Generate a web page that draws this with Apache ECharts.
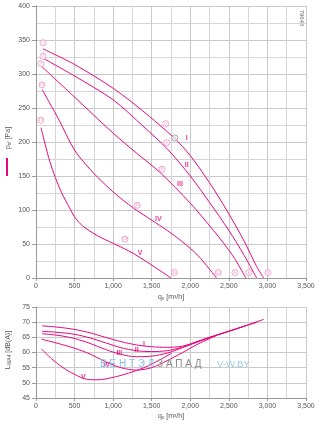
<!DOCTYPE html>
<html><head><meta charset="utf-8">
<script src="https://cdn.jsdelivr.net/npm/echarts@6/dist/echarts.min.js"></script>
<style>html,body{margin:0;padding:0;background:#fff}#c{width:325px;height:426px}</style>
</head><body><div id="c"></div>
<script>
// ---- data ----
const flowTicks = [0, 500, 1000, 1500, 2000, 2500, 3000, 3500];
const pressureTicks = [0, 50, 100, 150, 200, 250, 300, 350, 400];
const soundTicks = [45, 50, 55, 60, 65, 70, 75];

const pressI   = [[90,337],[500,314],[1000,279],[1370,247],[1790,206],[2000,180],[2250,140],[2470,100],[2690,56],[2860,17],[2950,0]];
const pressII  = [[95,323],[500,297],[1000,262],[1400,222],[1700,190],[2000,150],[2250,111],[2500,70],[2700,33],[2860,0]];
const pressIII = [[74,311],[500,266],[1000,213],[1300,184],[1600,156],[2000,110],[2300,70],[2550,33],[2720,0]];
const pressIV  = [[80,277],[300,232],[500,188],[700,160],[900,137],[1100,117],[1300,100],[1500,85],[1700,70],[1900,53],[2100,33],[2340,0]];
const pressV   = [[65,221],[120,196],[180,171],[250,148],[330,126],[440,102],[500,90],[600,77],[800,62],[1000,51],[1200,40],[1350,30],[1500,19],[1750,0]];

const soundI   = [[80,68.8],[300,68.3],[500,67.6],[700,66.5],[900,65],[1100,63.6],[1300,62.5],[1500,61.9],[1700,61.7],[1900,62.1],[2100,63.7],[2300,65.4],[2500,67],[2700,68.7],[2950,70.9]];
const soundII  = [[80,67],[300,66.6],[500,66],[700,64.8],[900,63.2],[1100,61.6],[1300,60.6],[1500,60.3],[1700,60.6],[1900,61.8],[2100,63.7],[2300,65.4],[2500,67],[2700,68.7],[2860,69.9]];
const soundIII = [[80,66.2],[300,65.6],[500,64.6],[700,63],[900,61],[1100,59.4],[1300,58.6],[1500,58.8],[1700,59.8],[1900,61.6],[2100,63.5],[2300,65.3],[2500,67],[2720,68.8]];
const soundIV  = [[70,64.4],[300,62.9],[500,61.4],[700,59.5],[900,57],[1100,55],[1300,54.2],[1500,55],[1700,57.3],[1900,60],[2100,62.8],[2340,65.6]];
const soundV   = [[70,61.2],[200,58],[350,55],[500,52.8],[650,51.2],[800,51],[1000,51.8],[1200,53.2],[1400,55],[1600,57.5],[1760,59.8]];

// circled operating-point labels on the pressure chart
const pointLabels = ['1','4','7','10','13','2','5','8','11','14','15','12','9','6','3'];
const pointX = [91,91,65,78,61,1681,1694,1633,1313,1153,1792,2363,2579,2760,3007];
const pointY = [346,326,315,284,232,227,199,160,107,57,8,8,8,8,8];
const greyPoint = [1798, 206];

const curveNames = ['I','II','III','IV','V'];
const pressNameX = [1953,1953,1866,1585,1348];
const pressNameY = [206,166,138,86,36];
const soundNameX = [1400,1305,1080,916,613];
const soundNameY = [62.9,60.9,59.8,55.9,52];

// ---- chart ----
const PINK = '#e5077f';
const FONT = 'Liberation Sans';
const fmt = v => v.toLocaleString('en-US');
const chart = echarts.init(document.getElementById('c'), null, {renderer:'canvas'});

function xAxis(gi){
  return {type:'value', gridIndex:gi, min:0, max:3500, interval:500,
    axisLine:{show:true, lineStyle:{color:'#999', width:1}},
    axisTick:{show:true, length:3, lineStyle:{color:'#999'}},
    axisLabel:{fontSize:7, color:'#555', fontFamily:FONT, margin:5, formatter:fmt},
    splitLine:{show:true, lineStyle:{color:'#c9c9c9', width:1}},
    minorTick:{show:false, splitNumber:2},
    minorSplitLine:{show:true, lineStyle:{color:'#d6d6d6', width:1}}};
}
const lineSeries = (data, xi, yi) => ({type:'line', xAxisIndex:xi, yAxisIndex:yi, data, smooth:0.3,
  showSymbol:false, symbol:'none', lineStyle:{color:PINK, width:1}, silent:true, z:3});

const series = [];
[pressI,pressII,pressIII,pressIV,pressV].forEach(d=>series.push(lineSeries(d,0,0)));
[soundI,soundII,soundIII,soundIV,soundV].forEach(d=>series.push(lineSeries(d,1,1)));
series.push({type:'scatter', xAxisIndex:0, yAxisIndex:0, symbol:'circle', symbolSize:6, z:5,
  itemStyle:{color:'#fff', borderColor:'#ee6fae', borderWidth:0.8},
  label:{show:true, position:'inside', fontSize:4, color:'#ee6fae', fontFamily:FONT, formatter:p=>p.data[2]},
  data: pointX.map((x,i)=>[x, pointY[i], pointLabels[i]])});
series.push({type:'scatter', xAxisIndex:0, yAxisIndex:0, symbol:'circle', symbolSize:6, z:5,
  itemStyle:{color:'#fff', borderColor:'#777', borderWidth:0.8},
  label:{show:true, position:'inside', fontSize:4, color:'#777', fontFamily:FONT, formatter:'5'},
  data:[greyPoint]});
series.push({type:'scatter', xAxisIndex:0, yAxisIndex:0, symbolSize:0, z:5,
  label:{show:true, position:'inside', fontSize:7, fontWeight:'bold', color:PINK, fontFamily:FONT, formatter:p=>p.data[2]},
  data: pressNameX.map((x,i)=>[x, pressNameY[i], curveNames[i]])});
series.push({type:'scatter', xAxisIndex:1, yAxisIndex:1, symbolSize:0, z:5,
  label:{show:true, position:'inside', fontSize:7, fontWeight:'bold', color:PINK, fontFamily:FONT, formatter:p=>p.data[2]},
  data: soundNameX.map((x,i)=>[x, soundNameY[i], curveNames[i]])});

const option = {
  animation:false,
  grid:[{left:36, right:19, top:6, height:272}, {left:36, right:19, top:307, height:91}],
  xAxis:[xAxis(0), xAxis(1)],
  yAxis:[
    {type:'value', gridIndex:0, min:pressureTicks[0], max:pressureTicks[pressureTicks.length-1], interval:50,
     axisLine:{show:true, lineStyle:{color:'#999'}}, axisTick:{show:true, length:4, lineStyle:{color:'#999'}},
     axisLabel:{fontSize:7, color:'#555', fontFamily:FONT, margin:6},
     splitLine:{show:true, lineStyle:{color:'#c9c9c9'}},
     minorTick:{show:false, splitNumber:2}, minorSplitLine:{show:true, lineStyle:{color:'#d6d6d6'}}},
    {type:'value', gridIndex:1, min:soundTicks[0], max:soundTicks[soundTicks.length-1], interval:5,
     axisLine:{show:true, lineStyle:{color:'#999'}}, axisTick:{show:true, length:4, lineStyle:{color:'#999'}},
     axisLabel:{fontSize:7, color:'#555', fontFamily:FONT, margin:6},
     splitLine:{show:true, lineStyle:{color:'#c9c9c9'}}}
  ],
  series,
  graphic:[
    {type:'text', x:171, y:297, silent:true, style:{text:'{a|q}{s|v}{a| [m³/h]}', align:'center', verticalAlign:'middle',
      rich:{a:{fontSize:7, fill:'#555', fontFamily:FONT}, s:{fontSize:5, fill:'#555', fontFamily:FONT, padding:[4,0,0,0]}}}},
    {type:'text', x:171, y:416, silent:true, style:{text:'{a|q}{s|v}{a| [m³/h]}', align:'center', verticalAlign:'middle',
      rich:{a:{fontSize:7, fill:'#555', fontFamily:FONT}, s:{fontSize:5, fill:'#555', fontFamily:FONT, padding:[4,0,0,0]}}}},
    {type:'text', x:8, y:138, rotation:Math.PI/2, silent:true, style:{text:'{a|p}{s|sf}{a| [Pa]}', align:'center', verticalAlign:'middle',
      rich:{a:{fontSize:7, fill:'#555', fontFamily:FONT}, s:{fontSize:5, fill:'#555', fontFamily:FONT, padding:[4,0,0,0]}}}},
    {type:'line', silent:true, shape:{x1:7, y1:158, x2:7, y2:176}, style:{stroke:PINK, lineWidth:2}},
    {type:'text', x:8, y:350, rotation:Math.PI/2, silent:true, style:{text:'{a|L}{s|WA4}{a| [dB(A)]}', align:'center', verticalAlign:'middle',
      rich:{a:{fontSize:7, fill:'#555', fontFamily:FONT}, s:{fontSize:5, fill:'#555', fontFamily:FONT, padding:[4,0,0,0]}}}},
    {type:'text', x:302, y:18, rotation:-Math.PI/2, silent:true, style:{text:'79645', align:'center', verticalAlign:'middle',
      fontSize:6, fill:'#666', fontFamily:FONT}},
    {type:'text', x:100, y:364, silent:true, z:10, style:{text:'{b|В Е Н Т Э Л }{g|З А П А Д}', verticalAlign:'middle',
      rich:{b:{fontSize:10, fill:'#86bfe6', fontFamily:FONT}, g:{fontSize:10, fill:'#8a8a8a', fontFamily:FONT}}}},
    {type:'text', x:217, y:364, silent:true, z:10, style:{text:'V-W.BY', verticalAlign:'middle', fontSize:9.5, fill:'#9cc9ea', fontFamily:FONT}}
  ]
};
chart.setOption(option);
</script></body></html>
